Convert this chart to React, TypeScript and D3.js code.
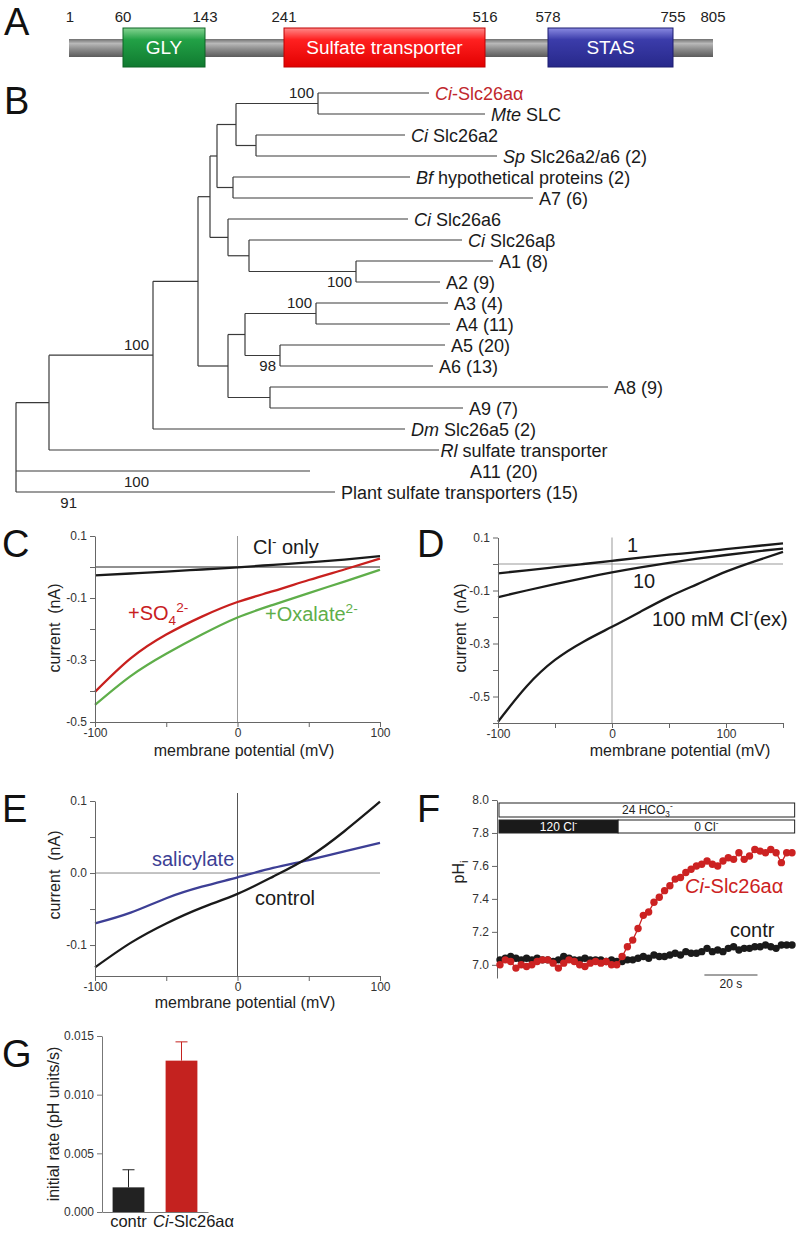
import { useEffect, useRef } from "react";
import * as d3 from "d3";

const FONT = "'Liberation Sans', Arial, Helvetica, sans-serif";
const LETTER_FONT = "'Liberation Sans Narrow', 'Liberation Sans', Arial, sans-serif";

// A - domain architecture (residue numbers)
const residueMarks = [1, 60, 143, 241, 516, 578, 755, 805];
const domainNames = ["GLY", "Sulfate transporter", "STAS"];
const domainStart = [60, 241, 578];
const domainEnd = [143, 516, 755];

// B - tree leaves (italic species prefix + rest of label) and tip depths
const leafPrefix = ["Ci", "Mte", "Ci", "Sp", "Bf", "", "Ci", "Ci", "", "", "", "", "", "", "", "", "Dm", "Rl", "", ""];
const leafRest = ["-Slc26aα", " SLC", " Slc26a2", " Slc26a2/a6 (2)", " hypothetical proteins (2)", "A7 (6)", " Slc26a6", " Slc26aβ",
  "A1 (8)", "A2 (9)", "A3 (4)", "A4 (11)", "A5 (20)", "A6 (13)", "A8 (9)", "A9 (7)", " Slc26a5 (2)", " sulfate transporter", "A11 (20)", "Plant sulfate transporters (15)"];
const leafDepth = [4.13, 4.69, 3.89, 4.81, 3.94, 5.17, 3.92, 4.46, 4.77, 4.24, 4.32, 4.34, 4.29, 4.17, 5.92, 4.47, 3.89, 4.23, 2.94, 3.19];
// internal nodes
const cladeIds = ["aM", "a2Sp", "top", "bfA7", "up1", "A12", "bA12", "a6g", "upper", "A34", "A56", "A36", "A89", "lower", "mid", "ingroup", "outer", "root"];
const cladeDepth = [3.02, 2.40, 2.20, 2.17, 2.01, 3.40, 2.33, 2.12, 1.94, 3.00, 2.64, 2.29, 2.54, 2.12, 1.82, 1.37, 0.33, 0];
const cladeKids = [[0, 1], [2, 3], ["aM", "a2Sp"], [4, 5], ["top", "bfA7"], [8, 9], [7, "A12"], [6, "bA12"], ["up1", "a6g"],
  [10, 11], [12, 13], ["A34", "A56"], [14, 15], ["A36", "A89"], ["upper", "lower"], ["mid", 16], ["ingroup", 17], ["outer", 18, 19]];
const supportNode = ["aM", "A12", "A34", "A56", "ingroup", "root", "root"];
const supportValue = ["100", "100", "100", "98", "100", "100", "91"];

// C - I/V curves
const cVoltage = [-100, -75, -50, -25, 0, 25, 50, 75, 100];
const cClOnly = [-0.027, -0.021, -0.015, -0.008, -0.001, 0.007, 0.015, 0.024, 0.035];
const cSulfate = [-0.403, -0.295, -0.218, -0.160, -0.113, -0.078, -0.042, -0.008, 0.027];
const cOxalate = [-0.445, -0.352, -0.280, -0.218, -0.163, -0.122, -0.084, -0.047, -0.009];

// D - external Cl- dependence
const dVoltage = [-100, -75, -50, -25, 0, 25, 50, 75, 100, 125, 150];
const dCl1 = [-0.035, -0.024, -0.012, 0.000, 0.012, 0.024, 0.035, 0.045, 0.056, 0.067, 0.078];
const dCl10 = [-0.125, -0.100, -0.076, -0.053, -0.032, -0.013, 0.004, 0.020, 0.034, 0.047, 0.058];
const dCl100 = [-0.595, -0.462, -0.362, -0.293, -0.237, -0.180, -0.124, -0.076, -0.029, 0.010, 0.046];

// E - salicylate block
const eVoltage = [-100, -75, -50, -25, 0, 25, 50, 75, 100];
const eControl = [-0.131, -0.097, -0.070, -0.048, -0.029, -0.005, 0.022, 0.058, 0.099];
const eSalicylate = [-0.070, -0.055, -0.035, -0.019, -0.006, 0.007, 0.018, 0.030, 0.042];

// F - pHi time course
const fTime = [0, 2, 4, 6, 8, 10, 12, 14, 16, 18, 20, 22, 24, 26, 28, 30, 32, 34, 36, 38, 40, 42, 44, 46, 48, 50, 52, 54,
  56, 58, 60, 62, 64, 66, 68, 70, 72, 74, 76, 78, 80, 82, 84, 86, 88, 90, 92, 94, 96, 98, 100, 102, 104, 106, 108, 110];
const fAlpha = [7.00, 7.03, 7.02, 6.98, 7.00, 6.99, 7.00, 7.02, 7.03, 7.03, 7.01, 6.98, 7.01, 7.03, 7.02, 7.00, 6.99, 7.01,
  7.02, 7.01, 7.02, 7.00, 7.00, 7.05, 7.11, 7.15, 7.22, 7.30, 7.32, 7.38, 7.41, 7.45, 7.48, 7.52, 7.53, 7.56, 7.58, 7.60,
  7.61, 7.63, 7.61, 7.60, 7.63, 7.65, 7.64, 7.68, 7.64, 7.66, 7.70, 7.69, 7.68, 7.70, 7.68, 7.62, 7.68, 7.68];
const fContr = [7.03, 7.04, 7.05, 7.04, 7.03, 7.04, 7.03, 7.04, 7.03, 7.03, 7.02, 7.03, 7.05, 7.04, 7.03, 7.03, 7.04, 7.03,
  7.03, 7.03, 7.02, 7.03, 7.02, 7.02, 7.03, 7.03, 7.04, 7.05, 7.04, 7.06, 7.05, 7.05, 7.06, 7.07, 7.06, 7.08, 7.07, 7.07,
  7.08, 7.10, 7.08, 7.09, 7.08, 7.10, 7.11, 7.09, 7.10, 7.10, 7.11, 7.11, 7.12, 7.11, 7.10, 7.12, 7.12, 7.12];
const fPhTicks = [7.0, 7.2, 7.4, 7.6, 7.8, 8.0];
const solutionLabels = ["120 Cl", "0 Cl"];
const solutionStart = [0, 44.5];
const solutionEnd = [44.5, 111];

// G - initial rates
const rateGroups = ["contr", "Ci-Slc26aα"];
const rateMean = [0.0021, 0.0129];
const rateSem = [0.0015, 0.0016];

export default function App() {
  const ref = useRef(null);

  useEffect(() => {
    const svg = d3.select(ref.current);
    svg.selectAll("*").remove();
    svg.attr("width", 799).attr("height", 1237).attr("font-family", FONT);
    svg.append("rect").attr("width", 799).attr("height", 1237).attr("fill", "#fff");

    const defs = svg.append("defs");
    const grad = (id, stops) => {
      const g = defs.append("linearGradient").attr("id", id).attr("x1", 0).attr("y1", 0).attr("x2", 0).attr("y2", 1);
      stops.forEach(([o, c]) => g.append("stop").attr("offset", o).attr("stop-color", c));
    };
    grad("gBar", [[0, "#707070"], [0.25, "#b8b8b8"], [0.55, "#8e8e8e"], [1, "#5c5c5c"]]);
    grad("gDom0", [[0, "#86d492"], [0.3, "#22a146"], [1, "#107a30"]]);
    grad("gDom1", [[0, "#ff8a8a"], [0.3, "#ff2020"], [1, "#e20000"]]);
    grad("gDom2", [[0, "#8a8ae2"], [0.3, "#3b3caa"], [1, "#27288a"]]);

    const letter = (t, x, y) => svg.append("text").attr("x", x).attr("y", y)
      .attr("font-family", LETTER_FONT).attr("font-size", 38).attr("fill", "#111").text(t);

    // rich text with italic / sub / sup parts
    const rich = (x, y, parts, size, fill, anchor = "start") => {
      const t = svg.append("text").attr("x", x).attr("y", y).attr("font-size", size)
        .attr("fill", fill).attr("text-anchor", anchor).style("white-space", "pre");
      let shift = 0;
      parts.forEach(([s, k]) => {
        const target = k === "sup" ? -0.42 * size : k === "sub" ? 0.25 * size : 0;
        const sp = t.append("tspan").attr("dy", target - shift).text(s);
        shift = target;
        if (k === "sup" || k === "sub") sp.attr("font-size", size * 0.68);
        if (k === "i") sp.attr("font-style", "italic");
      });
      return t;
    };

    const styleAxis = (a, col = "#666") => {
      a.attr("font-family", FONT).attr("font-size", 12);
      a.selectAll("path,line").attr("stroke", col);
      a.selectAll("text").attr("fill", "#333");
    };

    // ---------- A ----------
    letter("A", 4, 35);
    const ax = d3.scaleLinear().domain(residueMarks).range([70, 123, 205, 284, 485, 548, 673, 713]);
    svg.append("rect").attr("x", ax(1) - 1).attr("y", 39).attr("width", ax(805) - ax(1) + 1).attr("height", 18)
      .attr("fill", "url(#gBar)");
    domainNames.forEach((name, i) => {
      const x0 = ax(domainStart[i]), x1 = ax(domainEnd[i]);
      svg.append("rect").attr("x", x0).attr("y", 28).attr("width", x1 - x0).attr("height", 39)
        .attr("fill", `url(#gDom${i})`).attr("stroke", ["#0c6425", "#c00000", "#1c1c70"][i]).attr("stroke-width", 1);
      svg.append("text").attr("x", (x0 + x1) / 2).attr("y", 54).attr("text-anchor", "middle")
        .attr("font-size", 19).attr("fill", "#fff").text(name);
    });
    residueMarks.forEach(m => {
      svg.append("text").attr("x", ax(m)).attr("y", 22).attr("text-anchor", "middle")
        .attr("font-size", 15).attr("fill", "#222").text(m);
    });

    // ---------- B ----------
    letter("B", 4, 114);
    const tx = d3.scaleLinear().domain([0, 6]).range([16, 616]);
    const ty = d3.scalePoint().domain(leafRest.map((_, i) => i)).range([93, 492]);
    const build = (k) => {
      if (typeof k === "number") return { leaf: k, depth: leafDepth[k] };
      const i = cladeIds.indexOf(k);
      return { id: k, depth: cladeDepth[i], children: cladeKids[i].map(build) };
    };
    const root = d3.hierarchy(build("root"));
    root.eachAfter(n => {
      n.py = n.children ? (n.children[0].py + n.children[n.children.length - 1].py) / 2 : ty(n.data.leaf);
    });
    const tree = svg.append("g").attr("stroke", "#3a3a3a").attr("stroke-width", 1.2);
    root.descendants().filter(n => n.children).forEach(n => {
      tree.append("line").attr("x1", tx(n.data.depth)).attr("x2", tx(n.data.depth))
        .attr("y1", n.children[0].py).attr("y2", n.children[n.children.length - 1].py);
    });
    root.links().forEach(l => {
      tree.append("line").attr("x1", tx(l.source.data.depth)).attr("x2", tx(l.target.data.depth))
        .attr("y1", l.target.py).attr("y2", l.target.py);
    });
    root.leaves().forEach(n => {
      const i = n.data.leaf;
      const x = i === 18 ? tx(4.54) : tx(n.data.depth) + (i === 17 ? 1.5 : 6);
      const t = svg.append("text").attr("x", x).attr("y", n.py + 6.5).attr("font-size", 18)
        .attr("fill", i === 0 ? "#c0282d" : "#1a1a1a").style("white-space", "pre");
      if (leafPrefix[i]) t.append("tspan").attr("font-style", "italic").text(leafPrefix[i]);
      t.append("tspan").text(leafRest[i]);
    });
    supportNode.forEach((id, k) => {
      const n = root.descendants().find(d => d.data.id === id);
      const kids = n.children;
      let px = tx(n.data.depth) - 4, py;
      if (id === "aM" || id === "A34") py = kids[0].py + 5;
      else if (id === "A12" || id === "A56") py = kids[kids.length - 1].py + 5;
      else if (id === "ingroup") py = n.py - 5;
      else if (k === 5) { px = tx(1.33); py = (kids[1].py + kids[2].py) / 2 + 5; }
      else { px = tx(0.61); py = kids[kids.length - 1].py + 16; }
      svg.append("text").attr("x", px).attr("y", py).attr("text-anchor", "end")
        .attr("font-size", 15).attr("fill", "#222").text(supportValue[k]);
    });

    // ---------- I/V panels ----------
    const ivPanel = (o) => {
      const x = d3.scaleLinear().domain(o.xDomain).range(o.xRange);
      const y = d3.scaleLinear().domain(o.yDomain).range(o.yRange);
      const g = svg.append("g");
      g.append("line").attr("x1", o.xRange[0]).attr("x2", o.xRange[1]).attr("y1", y(0)).attr("y2", y(0))
        .attr("stroke", o.zeroH).attr("stroke-width", 1);
      g.append("line").attr("x1", x(0)).attr("x2", x(0)).attr("y1", o.yRange[1] - (o.vExtra || 0)).attr("y2", o.yRange[0])
        .attr("stroke", o.zeroV).attr("stroke-width", 1);
      o.series.forEach(s => {
        g.append("path")
          .attr("d", d3.line().x((d, i) => x(o.v[i])).y(d => y(d)).curve(d3.curveNatural)(s.values))
          .attr("fill", "none").attr("stroke", s.color).attr("stroke-width", 2.3);
      });
      const xa = g.append("g").attr("transform", `translate(0,${o.yRange[0]})`)
        .call(d3.axisBottom(x).tickValues(o.xTicks).tickFormat(d => (o.xLabeled.includes(d) ? String(d) : ""))
          .tickSize(5).tickSizeOuter(0).tickPadding(1));
      const ya = g.append("g").attr("transform", `translate(${o.xRange[0]},0)`)
        .call(d3.axisLeft(y).tickValues(o.yTicks).tickFormat(d => (o.yLabeled.includes(d) ? d.toFixed(1) : ""))
          .tickSize(5).tickSizeOuter(0));
      styleAxis(xa);
      styleAxis(ya);
      svg.append("text").attr("x", o.titleX).attr("y", o.titleY).attr("text-anchor", "middle")
        .attr("font-size", 16).attr("fill", "#222").text("membrane potential (mV)");
      svg.append("text").attr("transform", `translate(${o.ylabX},${o.ylabY}) rotate(-90)`)
        .attr("text-anchor", "middle").attr("font-size", 16).attr("fill", "#222").text("current\u00a0\u00a0(nA)");
    };

    // C
    letter("C", 2, 557);
    ivPanel({
      xDomain: [-100, 100], xRange: [95, 380], yDomain: [-0.5, 0.1], yRange: [722, 536],
      xTicks: [-100, -50, 0, 50, 100], xLabeled: [-100, 0, 100],
      yTicks: [0.1, 0, -0.1, -0.2, -0.3, -0.4, -0.5], yLabeled: [0.1, -0.1, -0.3, -0.5],
      zeroH: "#222", zeroV: "#999", v: cVoltage,
      series: [
        { values: cOxalate, color: "#5fae4a" },
        { values: cSulfate, color: "#c8201e" },
        { values: cClOnly, color: "#1a1a1a" },
      ],
      titleX: 244, titleY: 756, ylabX: 60, ylabY: 628,
    });
    rich(253, 554, [["Cl", "n"], ["-", "sup"], [" only", "n"]], 20, "#1a1a1a");
    rich(128, 620, [["+SO", "n"], ["4", "sub"], ["2-", "sup"]], 20, "#c8201e");
    rich(265, 621, [["+Oxalate", "n"], ["2-", "sup"]], 20, "#5fae4a");

    // D
    letter("D", 417, 557);
    ivPanel({
      xDomain: [-100, 150], xRange: [498, 783], yDomain: [-0.6, 0.1], yRange: [723, 537.5],
      xTicks: [-100, -50, 0, 50, 100, 150], xLabeled: [-100, 0, 100],
      yTicks: [0.1, 0, -0.1, -0.2, -0.3, -0.4, -0.5, -0.6], yLabeled: [0.1, -0.1, -0.3, -0.5],
      zeroH: "#999", zeroV: "#999", v: dVoltage,
      series: [
        { values: dCl1, color: "#1a1a1a" },
        { values: dCl10, color: "#1a1a1a" },
        { values: dCl100, color: "#1a1a1a" },
      ],
      titleX: 680, titleY: 756, ylabX: 466, ylabY: 628,
    });
    rich(627, 552, [["1", "n"]], 20, "#1a1a1a");
    rich(633, 588, [["10", "n"]], 20, "#1a1a1a");
    rich(652, 626, [["100 mM Cl", "n"], ["-", "sup"], ["(ex)", "n"]], 20, "#1a1a1a");

    // E
    letter("E", 2, 822);
    ivPanel({
      xDomain: [-100, 100], xRange: [95, 380], yDomain: [-0.143, 0.1], yRange: [976, 801],
      xTicks: [-100, -50, 0, 50, 100], xLabeled: [-100, 0, 100],
      yTicks: [0.1, 0.05, 0, -0.05, -0.1], yLabeled: [0.1, 0, -0.1],
      zeroH: "#888", zeroV: "#555", v: eVoltage, vExtra: 8,
      series: [
        { values: eSalicylate, color: "#3d3f95" },
        { values: eControl, color: "#1a1a1a" },
      ],
      titleX: 245, titleY: 1008, ylabX: 60, ylabY: 875,
    });
    rich(152, 866, [["salicylate", "n"]], 20, "#3d3f95");
    rich(255, 905, [["control", "n"]], 20, "#1a1a1a");

    // ---------- F ----------
    letter("F", 417, 822);
    const fx = d3.scaleLinear().domain([0, 110]).range([500, 792]);
    const fy = d3.scaleLinear().domain([6.92, 8.0]).range([978, 800]);
    const fa = svg.append("g").attr("transform", "translate(497,0)")
      .call(d3.axisLeft(fy).tickValues(fPhTicks).tickFormat(d => d.toFixed(1)).tickSize(5).tickSizeOuter(0));
    styleAxis(fa);
    // solution bars
    svg.append("rect").attr("x", fx(0) - 1).attr("y", 803).attr("width", fx(111) - fx(0) + 1).attr("height", 14)
      .attr("fill", "#fff").attr("stroke", "#222").attr("stroke-width", 1);
    rich((fx(0) + fx(111)) / 2, 814, [["24 HCO", "n"], ["3", "sub"], ["-", "sup"]], 12, "#222", "middle");
    solutionLabels.forEach((lab, i) => {
      const x0 = fx(solutionStart[i]) - (i === 0 ? 1 : 0), x1 = fx(solutionEnd[i]);
      svg.append("rect").attr("x", x0).attr("y", 820).attr("width", x1 - x0).attr("height", 13)
        .attr("fill", i === 0 ? "#1a1a1a" : "#fff").attr("stroke", "#222").attr("stroke-width", 1);
      rich((x0 + x1) / 2, 831, [[lab, "n"], ["-", "sup"]], 12, i === 0 ? "#fff" : "#222", "middle");
    });
    const fLine = d3.line().x((d, i) => fx(fTime[i])).y(d => fy(d));
    [[fContr, "#1a1a1a"], [fAlpha, "#cc2222"]].forEach(([vals, col]) => {
      svg.append("path").attr("d", fLine(vals)).attr("fill", "none").attr("stroke", col).attr("stroke-width", 1.3);
      svg.append("g").selectAll("circle").data(vals).enter().append("circle")
        .attr("cx", (d, i) => fx(fTime[i])).attr("cy", d => fy(d)).attr("r", 3.7).attr("fill", col);
    });
    svg.append("line").attr("x1", fx(77)).attr("x2", fx(97)).attr("y1", 975).attr("y2", 975)
      .attr("stroke", "#444").attr("stroke-width", 1);
    svg.append("text").attr("x", fx(87)).attr("y", 988).attr("text-anchor", "middle")
      .attr("font-size", 12).attr("fill", "#222").text("20 s");
    rich(685, 893, [["Ci", "i"], ["-Slc26aα", "n"]], 20, "#cc2222");
    rich(730, 937, [["contr", "n"]], 20, "#1a1a1a");
    const ph = rich(0, 0, [["pH", "n"], ["i", "sub"]], 16, "#222", "middle");
    ph.attr("transform", "translate(464,872) rotate(-90)");

    // ---------- G ----------
    letter("G", 2, 1067);
    const gx = d3.scaleBand().domain(rateGroups).range([102, 208]).paddingInner(0.4).paddingOuter(0.2);
    const gy = d3.scaleLinear().domain([0, 0.015]).range([1212, 1036]);
    rateGroups.forEach((grp, i) => {
      const col = i === 0 ? "#222" : "#c4221f";
      const cx = gx(grp) + gx.bandwidth() / 2;
      svg.append("line").attr("x1", cx).attr("x2", cx).attr("y1", gy(rateMean[i])).attr("y2", gy(rateMean[i] + rateSem[i]))
        .attr("stroke", col).attr("stroke-width", 1);
      svg.append("line").attr("x1", cx - 6).attr("x2", cx + 6)
        .attr("y1", gy(rateMean[i] + rateSem[i])).attr("y2", gy(rateMean[i] + rateSem[i]))
        .attr("stroke", col).attr("stroke-width", 1);
      svg.append("rect").attr("x", gx(grp)).attr("y", gy(rateMean[i])).attr("width", gx.bandwidth())
        .attr("height", gy(0) - gy(rateMean[i])).attr("fill", col);
    });
    const gya = svg.append("g").attr("transform", "translate(102,0)")
      .call(d3.axisLeft(gy).tickValues([0, 0.005, 0.01, 0.015]).tickFormat(d => d.toFixed(3)).tickSize(5).tickSizeOuter(0));
    styleAxis(gya, "#777");
    const gxa = svg.append("g").attr("transform", "translate(0,1212)")
      .call(d3.axisBottom(gx).tickSize(0).tickSizeOuter(0).tickFormat(() => ""));
    styleAxis(gxa, "#777");
    rich(gx("contr") + gx.bandwidth() / 2, 1227, [["contr", "n"]], 16.5, "#1a1a1a", "middle");
    rich(153, 1227, [["Ci", "i"], ["-Slc26aα", "n"]], 16.5, "#1a1a1a");
    svg.append("text").attr("transform", "translate(59,1124) rotate(-90)").attr("text-anchor", "middle")
      .attr("font-size", 16).attr("fill", "#222").text("initial rate (pH units/s)");
  }, []);

  return (
    <svg ref={ref} style={{ position: "absolute", left: 0, top: 0, display: "block" }} />
  );
}
